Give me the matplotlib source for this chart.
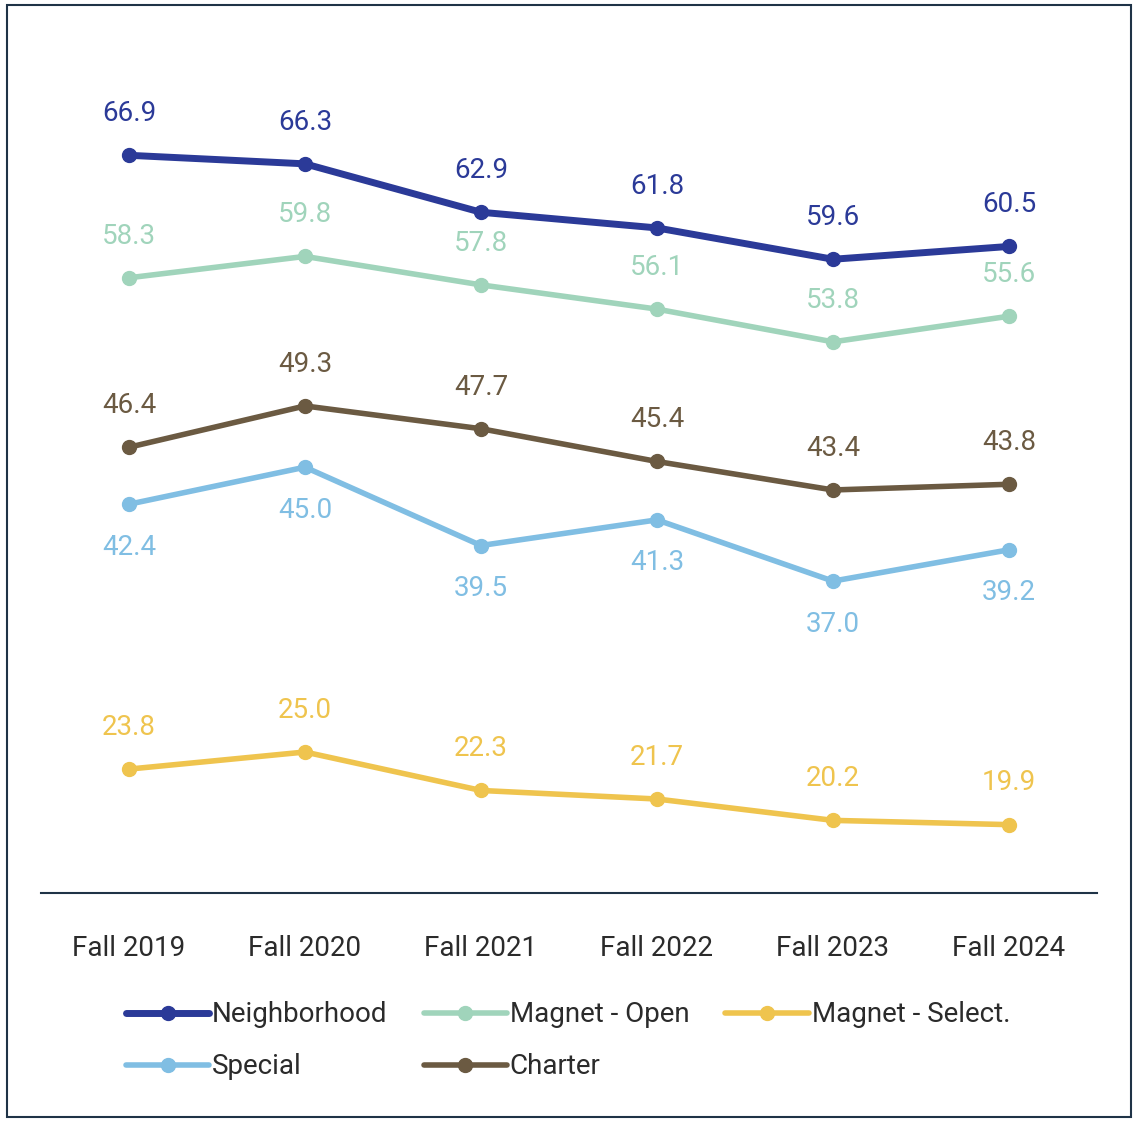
import matplotlib
matplotlib.use("Agg")
import matplotlib.pyplot as plt
from matplotlib.patches import Rectangle

categories = ["Fall 2019", "Fall 2020", "Fall 2021", "Fall 2022", "Fall 2023", "Fall 2024"]
neighborhood = [66.9, 66.3, 62.9, 61.8, 59.6, 60.5]
magnet_open = [58.3, 59.8, 57.8, 56.1, 53.8, 55.6]
magnet_select = [23.8, 25.0, 22.3, 21.7, 20.2, 19.9]
special = [42.4, 45.0, 39.5, 41.3, 37.0, 39.2]
charter = [46.4, 49.3, 47.7, 45.4, 43.4, 43.8]

plt.rcParams['font.family'] = ['Roboto', 'DejaVu Sans']
fig = plt.figure(figsize=(11.36, 11.22), dpi=100)
fig.patches.append(Rectangle((7/1136, 1-1117/1122), 1124/1136, 1112/1122, transform=fig.transFigure,
                             fill=False, edgecolor='#1f3347', lw=1.5))
ax = fig.add_axes([41/1136, 1-893/1122, 1056/1136, 873/1122])
ax.set_xlim(-0.5, 5.5)
ax.set_ylim(15.1, 76.4)
x = list(range(len(categories)))

series = [
    ("Neighborhood", neighborhood, '#2b3a98', 'above', 5),
    ("Magnet - Open", magnet_open, '#a0d4bb', 'above', 4),
    ("Magnet - Select.", magnet_select, '#efc44e', 'above', 4),
    ("Special", special, '#80bee3', 'below', 4),
    ("Charter", charter, '#6b5a42', 'above', 4),
]
handles = {}
for name, vals, col, pos, lw in series:
    h, = ax.plot(x, vals, color=col, lw=lw, marker='o', markersize=10, label=name, solid_capstyle='round')
    handles[name] = h
    for xi, v in zip(x, vals):
        off = 30 if pos == 'above' else -31
        ax.annotate(f"{v:.1f}", (xi, v), xytext=(0, off), textcoords='offset points',
                    ha='center', va='center', fontsize=20, color=col)

for s in ['top', 'right', 'left']:
    ax.spines[s].set_visible(False)
ax.spines['bottom'].set_color('#1f3347')
ax.spines['bottom'].set_linewidth(1.5)
ax.set_yticks([])
ax.set_xticks(x)
ax.set_xticklabels(categories, fontsize=20, color='#2b2b2b')
ax.tick_params(axis='x', length=0, pad=30)

order = ["Neighborhood", "Special", "Magnet - Open", "Charter", "Magnet - Select."]
leg = fig.legend([handles[n] for n in order], order, ncol=3, loc='center',
                 bbox_to_anchor=(0.5, 1-1041/1122), frameon=False, fontsize=20,
                 handlelength=3.0, handletextpad=0.1, columnspacing=1.3, labelspacing=0.9)
for t in leg.get_texts():
    t.set_color('#2b2b2b')
fig.savefig("out.png", dpi=100)
